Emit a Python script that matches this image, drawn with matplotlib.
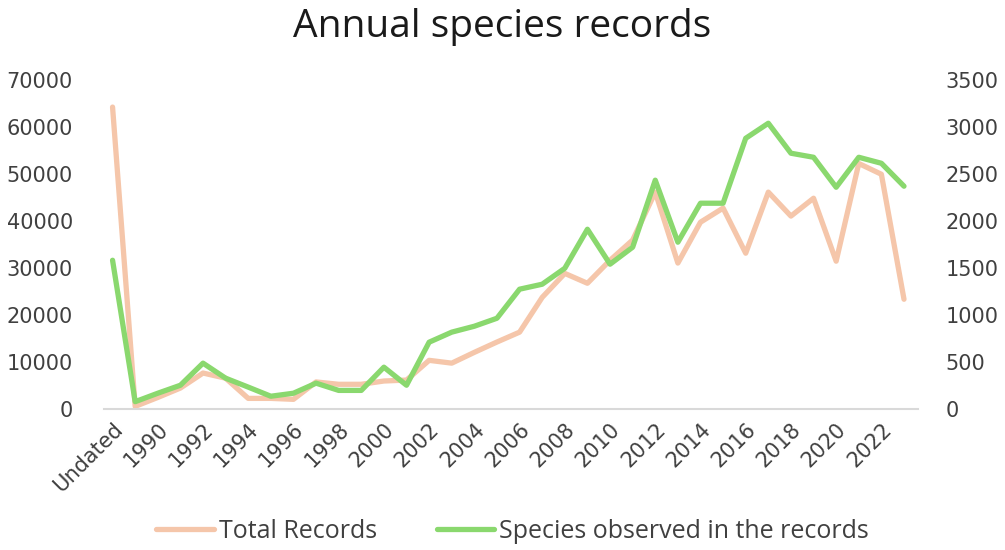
import matplotlib.pyplot as plt

plt.rcParams['font.family'] = ['Open Sans', 'DejaVu Sans']

years = ['Undated'] + [str(y) for y in range(1989, 2024)]

total_records = [64300, 600, 2500, 4500, 7700, 6600, 2300, 2300, 2100, 5800,
                 5300, 5300, 6000, 6200, 10400, 9800, 12100, 14300, 16400, 23800,
                 28900, 26800, 31700, 36000, 46200, 31100, 39800, 42800, 33200, 46200,
                 41100, 44900, 31500, 52300, 50000, 23400]

species = [1585, 80, 170, 255, 490, 330, 235, 138, 170, 277,
           200, 200, 447, 255, 713, 820, 883, 968, 1277, 1330,
           1500, 1915, 1543, 1724, 2437, 1777, 2192, 2192, 2883, 3043,
           2724, 2681, 2362, 2681, 2617, 2373]

peach = '#F5C6AA'
green = '#8AD86E'
txt = '#404040'
tick_font = 'DejaVu Sans'

fig = plt.figure(figsize=(10.05, 5.5), dpi=100)
ax = fig.add_axes([0.103, 0.256, 0.81, 0.598])
ax2 = ax.twinx()

x = list(range(len(years)))
l1, = ax.plot(x, total_records, color=peach, linewidth=3.8, solid_joinstyle='round',
              solid_capstyle='round', label='Total Records')
l2, = ax2.plot(x, species, color=green, linewidth=3.8, solid_joinstyle='round',
               solid_capstyle='round', label='Species observed in the records')

ax.set_xlim(-0.4, len(years) - 0.4)
ax.set_ylim(0, 70000)
ax2.set_ylim(0, 3500)
ax.set_yticks(range(0, 70001, 10000))
ax2.set_yticks(range(0, 3501, 500))

ax.set_xticks(x[::2])
ax.set_xticklabels(years[::2], rotation=45, ha='right', va='top',
                   rotation_mode='anchor', fontsize=14, color=txt, family=tick_font)

for a in (ax, ax2):
    for s in a.spines.values():
        s.set_visible(False)
    a.tick_params(length=0, labelsize=15, labelcolor=txt)
    for lab in a.get_yticklabels():
        lab.set_family(tick_font)
ax.spines['bottom'].set_visible(True)
ax.spines['bottom'].set_color('#D9D9D9')
ax.spines['bottom'].set_linewidth(1.5)
ax.tick_params(axis='y', pad=22)
ax.tick_params(axis='x', pad=7)
ax2.tick_params(axis='y', pad=20)

fig.suptitle('Annual species records', fontsize=28, color='#1a1a1a', y=0.985)

fig.legend(handles=[l1, l2], loc='lower center', ncol=2, frameon=False,
           fontsize=18, bbox_to_anchor=(0.51, -0.03), handlelength=2.3,
           handletextpad=0.2, columnspacing=2.4, labelcolor=txt)

fig.savefig('out.png', dpi=100)
